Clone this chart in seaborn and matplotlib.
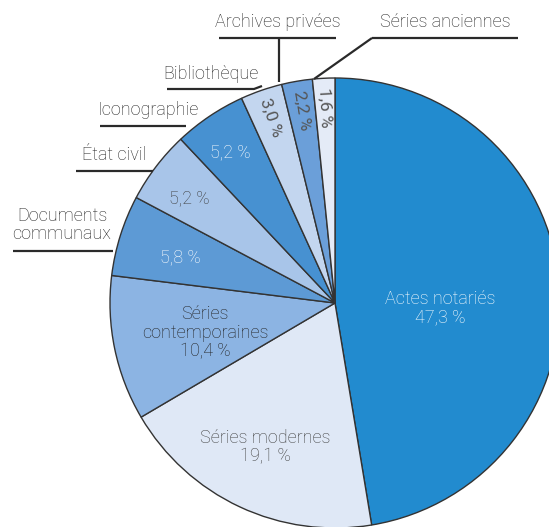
import matplotlib
matplotlib.use("Agg")
import matplotlib.pyplot as plt
import seaborn as sns
import numpy as np

categories = ["Actes notariés", "Séries modernes", "Séries contemporaines",
              "Documents communaux", "État civil", "Iconographie",
              "Bibliothèque", "Archives privées", "Séries anciennes"]
values = [47.3, 19.1, 10.4, 5.8, 5.2, 5.2, 3.0, 2.2, 1.6]
value_labels = ["47,3 %", "19,1 %", "10,4 %", "5,8 %", "5,2 %", "5,2 %", "3,0 %", "2,2 %", "1,6 %"]
colors = ["#228BCF", "#DFE8F6", "#8CB4E3", "#5D9AD5", "#A8C5E9",
          "#4791D1", "#C3D6EF", "#6B9FD9", "#E4EBF7"]

sns.set_theme(style="white")
plt.rcParams['font.family'] = ['Roboto', 'DejaVu Sans']

W, H = 549, 527
fig = plt.figure(figsize=(W / 100, H / 100), dpi=100)
ax = fig.add_axes([0, 0, 1, 1])

cx, cy, R = 335, 303, 225  # pixel coords (y down)
ax.pie(values, colors=colors, startangle=90, counterclock=False,
       center=(cx, H - cy), radius=R,
       wedgeprops=dict(edgecolor="#333333", linewidth=1.0))
ax.set_xlim(0, W)
ax.set_ylim(0, H)
ax.set_aspect("equal")
ax.axis("off")

def P(x, y):
    return x, H - y

grey = "#3e3e3e"
dark = "#222222"
fs = 13
fw = "light"

inside = [
    (0, 440, 308, "white"),
    (1, 265, 447, grey),
    (2, 205, 333, dark),
    (3, 180, 257, "white"),
    (4, 189, 198, grey),
    (5, 230, 152, "white"),
]
for i, x, y, c in inside:
    name = categories[i]
    if i in (0, 1):
        txt = f"{name}\n{value_labels[i]}"
    elif i == 2:
        txt = f"Séries\ncontemporaines\n{value_labels[i]}"
    else:
        txt = value_labels[i]
    ax.text(*P(x, y), txt, ha="center", va="center", color=c, fontsize=fs,
            linespacing=1.05, fontweight=fw)

total = sum(values)
for i in (6, 7, 8):
    start = 90 + (total - sum(values[:i + 1])) / total * 360
    end = 90 + (total - sum(values[:i])) / total * 360
    mid = (start + end) / 2
    rr = 0.87 * R
    x = cx + rr * np.cos(np.radians(mid))
    y = cy - rr * np.sin(np.radians(mid))
    ax.text(*P(x, y), value_labels[i], ha="center", va="center", color="#555555",
            fontsize=12.5, rotation=mid - 180, rotation_mode="anchor", fontweight="normal")

lc = "#2a2a2a"
lw = 1.6
def line(xs, ys):
    ax.plot(xs, [H - v for v in ys], color=lc, lw=lw, solid_capstyle="butt")

def label(x, y, s):
    ax.text(*P(x, y), s, ha="center", va="center", color=dark, fontsize=fs,
            linespacing=1.05, fontweight=fw)

label(445, 22, categories[8])
line([372, 518], [38, 38])
line([372, 314], [38, 79])

label(278, 22, categories[7])
line([219, 336], [38, 38])
line([279, 279], [38, 82])

label(211, 74, categories[6])
line([167, 254, 262], [89, 89, 86])

label(148, 110, categories[5])
line([100, 186], [126, 126])

label(114, 155, categories[4])
line([76, 153], [171, 171])

label(62, 225, "Documents\ncommunaux")
line([13, 113], [251, 251])

fig.savefig("out.png", dpi=100)
